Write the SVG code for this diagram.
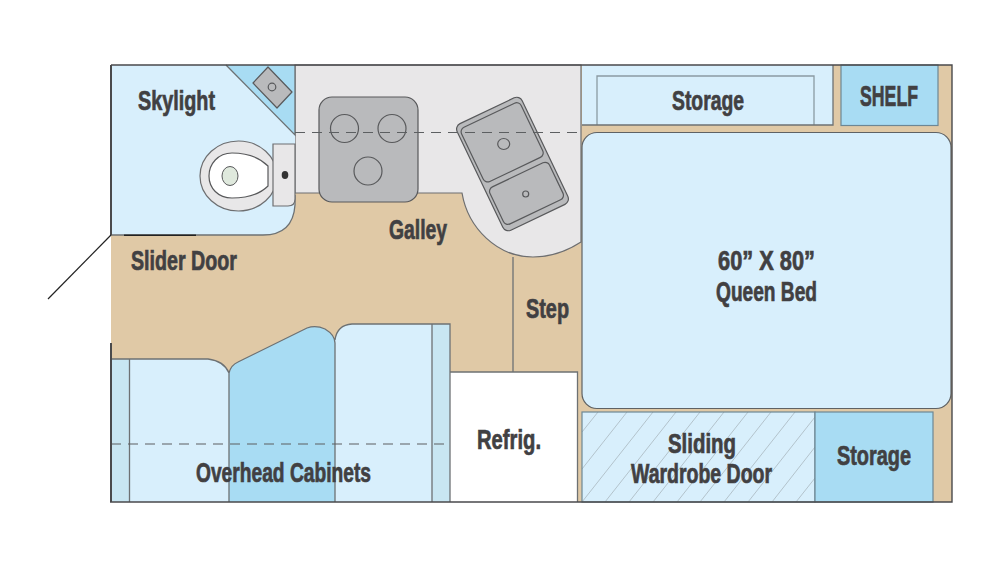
<svg xmlns="http://www.w3.org/2000/svg" width="1000" height="567" viewBox="0 0 1000 567">
<style>
.l{font-family:"Liberation Sans",Arial,sans-serif;font-weight:700;font-size:27px;fill:#414042;stroke:#414042;stroke-width:.7px}
.e{stroke:#6d7173;stroke-width:1.3;fill:none}
.w{stroke:#4a4a4c;stroke-width:1.4;fill:none}
.d{stroke:#5c5f61;stroke-width:1.2;stroke-dasharray:10 7;fill:none}
.lb{fill:#d8effc}.mb{fill:#a8dcf3}.pb{fill:#c8e6f2}
.g{fill:#b9babc;stroke:#58595b;stroke-width:1.2}
.p{fill:#e8e7e8;stroke:#6d6e70;stroke-width:1.2}
.h{stroke:#a9b8bf;stroke-width:.8;fill:none}
</style>
<rect width="1000" height="567" fill="#fff"/>
<g id="floor"><rect x="111" y="65" width="841" height="437" fill="#e0c9a6"/></g>
<g id="galley">
<path class="p" d="M295 65H581V242Q558 257 533 257C497 257 468 228 462 193H295Z"/>
<rect class="g" x="319" y="97" width="99" height="105" rx="13"/>
<circle class="g" cx="344.500" cy="128.500" r="14"/><circle class="g" cx="392" cy="128.500" r="14"/><circle class="g" cx="368" cy="171" r="14"/>
<g transform="translate(512.500 164) rotate(-25.500)">
<rect class="g" x="-36" y="-59" width="72" height="118" rx="6"/>
<rect class="g" x="-33" y="-54" width="66" height="60" rx="5"/>
<rect class="g" x="-33" y="12" width="66" height="41" rx="5"/>
</g>
<ellipse class="g" cx="503.700" cy="144" rx="6" ry="5.500"/><circle class="g" cx="525.700" cy="194" r="3"/>
<text class="l" x="389" y="239" textLength="58" lengthAdjust="spacingAndGlyphs">Galley</text>
</g>
<g id="bath">
<path class="lb" d="M111 65H295V205Q293 235 263 235H111Z"/>
<path class="e" d="M295 195V205Q293 235 263 235H111"/>
<path class="mb" d="M226 65H295V135Z"/><path class="e" d="M226 65L295 135V65"/>
<path class="g" d="M268 67L292 92L277 108L253 83Z" stroke-linejoin="round"/><circle class="g" cx="272" cy="87" r="3.800"/>
<ellipse class="p" cx="238.500" cy="176" rx="38.500" ry="35"/>
<path d="M268 166C258 156 244 153 232 153C218 153 209 164 209 176C209 188 218 198 232 198C246 198 260 194 268 186Z" fill="#fff" stroke="#58595b" stroke-width="1.200"/>
<ellipse cx="230" cy="176" rx="8" ry="9.500" fill="#dfe9dd" stroke="#58595b" stroke-width="1"/>
<path class="p" d="M273 144H295V199Q295 206 288 206H273Z"/>
<ellipse cx="285" cy="175" rx="3.300" ry="4" fill="#333"/>
<text class="l" x="138" y="110" textLength="77" lengthAdjust="spacingAndGlyphs">Skylight</text>
</g>
<g id="step"><path class="e" d="M513 257V372"/>
<text class="l" x="526" y="318" textLength="43" lengthAdjust="spacingAndGlyphs">Step</text></g>
<g id="slider-door">
<text class="l" x="131" y="270" textLength="106" lengthAdjust="spacingAndGlyphs">Slider Door</text>
</g>
<g id="refrigerator"><path d="M450 372H577.500V502H450Z" fill="#fff"/>
<path class="e" d="M450 372H577.500V502"/>
<text class="l" x="477" y="449" textLength="64" lengthAdjust="spacingAndGlyphs" style="font-size:28px">Refrig.</text></g>
<g id="cabinets">
<path class="lb" d="M111 359H208Q224 361 229 373V502H111Z"/>
<rect class="pb" x="111" y="359" width="18.500" height="143"/>
<path class="mb" d="M229 373Q231 365 238 362L307 328Q316 325 325 329Q335 335 335 343V502H229Z"/>
<path class="lb" d="M335 340Q337 325 352 324H450V502H335Z"/>
<rect class="pb" x="432" y="324" width="18" height="178"/>
<path class="e" d="M111 359H208Q224 361 229 373V502M229 373Q231 365 238 362L307 328Q316 325 325 329Q335 335 335 343V502M335 340Q337 325 352 324H450V502M129.500 359V502M432 324V502"/>
<path class="d" d="M111 444H446"/>
<text class="l" x="196" y="482" textLength="175" lengthAdjust="spacingAndGlyphs">Overhead Cabinets</text>
</g>
<g id="bed"><rect class="lb" x="582" y="132.500" width="369" height="276" rx="15" stroke="#5f6264" stroke-width="1.200"/>
<text class="l" x="718" y="270" textLength="97" lengthAdjust="spacingAndGlyphs">60” X 80”</text>
<text class="l" x="716" y="301" textLength="101" lengthAdjust="spacingAndGlyphs">Queen Bed</text></g>
<g id="storage-top"><rect class="lb" x="582" y="65" width="251" height="60"/>
<path d="M597 125V76H814V125" stroke="#8a9aa3" stroke-width="1.300" fill="none"/><path d="M582 125H833V65" class="e"/>
<text class="l" x="672" y="110" textLength="72" lengthAdjust="spacingAndGlyphs">Storage</text></g>
<g id="shelf"><rect class="mb" x="841" y="65" width="97" height="60.500" stroke="#6d8794" stroke-width="1.200"/>
<text class="l" x="860" y="106" textLength="58" lengthAdjust="spacingAndGlyphs" style="font-size:30px">SHELF</text></g>
<g id="wardrobe"><rect class="lb" x="582" y="412" width="233" height="90"/>
<path class="h" d="M582 432L598 412M582 502L653 412M605 502L676 412M582 469L627 412M629 502L700 412M653 502L724 412M677 502L748 412M700 502L771 412M724 502L795 412M748 502L815 417M772 502L815 447M796 502L815 478"/>
<rect x="582" y="412" width="233" height="90" fill="none" stroke="#6d8794" stroke-width="1.200"/>
<text class="l" x="668" y="453" textLength="68" lengthAdjust="spacingAndGlyphs">Sliding</text>
<text class="l" x="631" y="483" textLength="141" lengthAdjust="spacingAndGlyphs">Wardrobe Door</text></g>
<g id="storage-bottom"><rect class="mb" x="815" y="412" width="118" height="90" stroke="#6d8794" stroke-width="1.200"/>
<text class="l" x="837" y="465" textLength="74" lengthAdjust="spacingAndGlyphs">Storage</text></g>
<g id="connectors">
<path class="d" d="M295 132.500H581"/>
<path class="w" d="M111 65H952V502H110"/>
<path d="M111 235V65M111 502V343" stroke="#4a4a4c" stroke-width="2" fill="none"/>
<path d="M124 235.200H196" stroke="#222" stroke-width="1.500"/>
<path d="M111 235L48 299" stroke="#222" stroke-width="1.200"/>
</g>
</svg>
